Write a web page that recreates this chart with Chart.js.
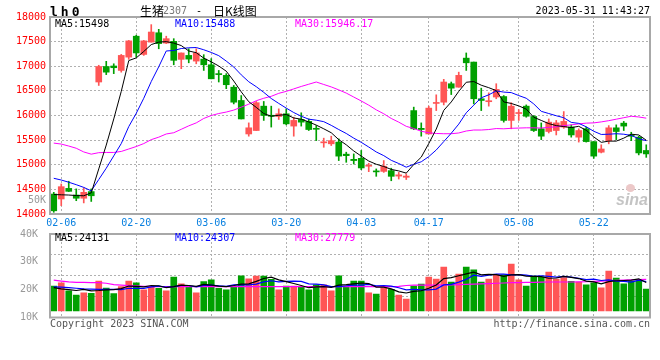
<!DOCTYPE html>
<html>
<head>
<meta charset="utf-8">
<script src="https://cdn.jsdelivr.net/npm/chart.js@4.4.0/dist/chart.umd.min.js"></script>
<style>
body { margin: 0; background: #fff; }
#wrap { position: relative; width: 660px; height: 360px; overflow: hidden; font-family: 'DejaVu Sans Mono', monospace; font-size: 10px; }
.t { position: absolute; white-space: nowrap; line-height: 12px; }
canvas { position: absolute; left: 0; }
</style>
</head>
<body>
<div id="wrap">
  <canvas id="kline" width="660" height="230" style="top:0"></canvas>
  <canvas id="vol" width="660" height="143" style="top:217px"></canvas>

  <div class="t" style="left:50px;top:5px;font-weight:bold;font-size:13px;line-height:13px;letter-spacing:3px">lh0</div>
  <div class="t" style="left:140px;top:4px;font-family:'Noto Sans CJK SC';font-size:12px;line-height:14px">生猪</div>
  <div class="t" style="left:163px;top:5px;color:#777">2307</div>
  <div class="t" style="left:196px;top:5px">-</div>
  <div class="t" style="left:213px;top:4px;font-family:'Noto Sans CJK SC';font-size:12px;line-height:14px">日K线图</div>
  <div class="t" style="right:10px;top:5px">2023-05-31 11:43:27</div>

  <div class="t" style="left:55px;top:18px;color:#000">MA5:15498</div>
  <div class="t" style="left:175px;top:18px;color:#00f">MA10:15488</div>
  <div class="t" style="left:295px;top:18px;color:#f0f">MA30:15946.17</div>
  <div class="t" style="right:614px;top:194px;color:#999">50K</div>

  <div class="t" style="left:55px;top:232px;color:#000">MA5:24131</div>
  <div class="t" style="left:175px;top:232px;color:#00f">MA10:24307</div>
  <div class="t" style="left:295px;top:232px;color:#f0f">MA30:27779</div>

  <div class="t" style="left:50px;top:318px;color:#555">Copyright 2023 SINA.COM</div>
  <div class="t" style="right:10px;top:318px;color:#555">http://finance.sina.com.cn</div>

  <div style="position:absolute;left:626px;top:184px;width:9px;height:8px;border-radius:50%;background:#ecc8c8"></div>
  <div class="t" style="left:616px;top:192px;font-family:'Liberation Sans';font-style:italic;font-weight:bold;font-size:16px;line-height:16px;color:#c4c4c4">sina</div>
</div>

<script>
// trading days 02-03 .. 05-31
const dates = ['02-03','02-06','02-07','02-08','02-09','02-10','02-13','02-14','02-15','02-16',
  '02-17','02-20','02-21','02-22','02-23','02-24','02-27','02-28','03-01','03-02',
  '03-03','03-06','03-07','03-08','03-09','03-10','03-13','03-14','03-15','03-16',
  '03-17','03-20','03-21','03-22','03-23','03-24','03-27','03-28','03-29','03-30',
  '03-31','04-03','04-04','04-06','04-07','04-10','04-11','04-12','04-13','04-14',
  '04-17','04-18','04-19','04-20','04-21','04-24','04-25','04-26','04-27','04-28',
  '05-04','05-05','05-08','05-09','05-10','05-11','05-12','05-15','05-16','05-17',
  '05-18','05-19','05-22','05-23','05-24','05-25','05-26','05-29','05-30','05-31'];
const tickDates = ['02-06','02-20','03-06','03-20','04-03','04-17','05-08','05-22'];

const open = [14405,14305,14520,14385,14320,14455,16680,16995,17005,16915,
  17185,17610,17240,17490,17680,17470,17505,17140,17220,17105,
  17145,17030,16840,16815,16575,16305,15625,15695,16190,16005,
  15980,16035,15785,15920,15880,15740,15445,15425,15460,15215,
  15110,15130,14970,14875,14865,14880,14770,14745,16100,15740,
  15625,16245,16270,16645,16575,17165,17085,16340,16280,16375,
  16385,15900,16040,16190,15980,15730,15675,15695,15765,15765,
  15560,15730,15470,15255,15490,15750,15845,15605,15560,15290];
const high = [14440,14610,14665,14510,14530,14510,17020,17100,17050,17240,
  17525,17630,17525,17845,17750,17610,17560,17270,17355,17355,
  17235,17155,16915,16850,16610,16405,15850,16285,16285,16190,
  16135,16135,15965,16055,15930,15795,15540,15580,15525,15255,
  15220,15290,15030,14915,15085,14930,14845,14815,16170,15850,
  16190,16420,16735,16680,16880,17270,17085,16555,16460,16645,
  16405,16260,16120,16215,16000,15850,15930,15900,16080,15810,
  15730,15765,15470,15405,15795,15810,15880,15660,15580,15405];
const low = [14035,14170,14455,14270,14225,14255,16610,16830,16850,16880,
  17140,17185,17220,17490,17355,17460,17030,16950,17070,17050,
  16915,16745,16680,16545,16235,15930,15580,15695,15900,15765,
  15920,15810,15580,15785,15695,15490,15355,15390,15085,15050,
  15015,14900,14860,14765,14845,14675,14710,14700,15715,15580,
  15625,16100,16215,16425,16575,16915,16235,16100,16190,16340,
  15865,15730,15900,15965,15675,15510,15645,15605,15740,15560,
  15460,15460,15130,15240,15425,15510,15695,15490,15200,15150];
const close = [14065,14555,14460,14320,14440,14370,16995,16880,16970,17220,
  17515,17270,17515,17695,17460,17560,17120,17270,17145,17270,
  17030,16745,16830,16625,16270,15930,15750,16260,16000,15985,
  16035,15830,15900,15865,15715,15720,15460,15490,15175,15185,
  15085,14935,14990,14855,14970,14765,14795,14770,15730,15715,
  16150,16265,16680,16555,16815,17070,16340,16305,16290,16530,
  15900,16190,16055,15985,15695,15580,15865,15850,15880,15605,
  15695,15470,15175,15320,15750,15675,15785,15580,15240,15220];

const ma5 = [14395,14390,14385,14375,14370,14430,14915,15400,15930,16490,
  17115,17170,17300,17440,17490,17500,17470,17420,17310,17275,
  17165,17090,17005,16900,16700,16480,16280,16165,16040,15985,
  16005,16020,15950,15925,15870,15805,15730,15650,15510,15405,
  15280,15175,15075,15010,14965,14905,14875,14830,15005,15155,
  15430,15725,16105,16275,16490,16675,16690,16615,16565,16505,
  16275,16245,16195,16130,15965,15900,15835,15795,15775,15755,
  15780,15700,15565,15455,15480,15480,15540,15620,15605,15498];
const ma10 = [14725,14690,14645,14595,14540,14470,14700,14930,15180,15430,
  15775,16045,16350,16690,16990,17310,17320,17360,17375,17380,
  17335,17280,17215,17105,16985,16825,16685,16585,16470,16345,
  16245,16150,16060,15985,15925,15905,15875,15800,15715,15635,
  15540,15455,15360,15260,15185,15090,15025,14950,15010,15060,
  15165,15300,15470,15640,15825,16055,16210,16360,16420,16500,
  16475,16465,16405,16350,16235,16085,16040,15995,15955,15860,
  15840,15770,15680,15615,15620,15630,15620,15595,15530,15488];
const ma30 = [15440,15420,15380,15335,15260,15215,15245,15250,15250,15270,
  15320,15370,15430,15510,15560,15625,15650,15720,15790,15850,
  15940,16000,16040,16070,16110,16170,16230,16300,16350,16390,
  16450,16490,16540,16590,16635,16680,16630,16580,16520,16455,
  16375,16295,16210,16115,16035,15940,15865,15780,15735,15680,
  15650,15635,15630,15630,15645,15685,15705,15705,15715,15735,
  15730,15740,15745,15750,15750,15745,15760,15770,15795,15810,
  15830,15845,15850,15870,15895,15925,15955,15985,15970,15946];

const volume = [21300,22500,19600,18100,18900,18700,23100,20600,18600,21100,
  23100,22500,19900,21100,20500,19600,24500,22100,20800,18900,
  22900,23500,20500,19900,21100,25000,23900,24900,24900,23700,
  19900,21300,21300,21100,19900,21700,21700,19600,25000,21100,
  23100,23100,18900,18400,20700,20100,18100,16600,21300,22000,
  24500,23800,28100,22700,25600,28100,27100,22700,23800,25300,
  25300,29200,23500,21300,24900,24500,26300,23800,24300,23000,
  22700,21700,22500,20700,26700,24200,22100,23100,23100,20200];
const vma5 = [20700,20300,20000,19700,20100,19600,19700,19900,20000,20400,
  21300,21200,21000,21500,21400,20700,21100,21600,21500,21200,
  21900,21600,21300,21100,21500,22000,22100,23000,24000,24500,
  23500,22900,22200,21500,20700,21000,21100,20800,21600,21800,
  22100,22400,22200,20900,20900,20300,19200,18800,19400,19600,
  20500,21700,24000,24300,25000,25700,26300,25300,25500,25400,
  24800,25300,25400,24900,24800,24700,24100,24200,24800,24400,
  24000,23100,22800,22100,22900,23200,23300,23400,23900,22600];
const vma10 = [21000,20900,20700,20500,20300,20200,20100,20100,20100,20000,
  20500,20500,20500,21000,21300,20900,21100,21500,21500,21000,
  21500,21600,21400,21200,21700,21800,21700,22000,22800,23200,
  22800,23000,23100,23000,22100,22000,21700,21100,21100,21400,
  21600,21600,21900,21400,21500,21300,20700,19900,20100,19900,
  19900,20200,21700,21900,22700,23700,25200,24800,25200,25600,
  25600,25300,25400,25200,24800,25000,24800,24500,24800,24500,
  24100,23600,23800,23300,23500,23100,23000,22700,23400,22900];
const vma30 = [23400,23100,22800,22650,22600,22550,22500,22300,21800,21600,
  21450,21350,21200,21100,21100,21100,21100,21100,21100,21100,
  21100,21100,21100,21100,21100,21100,21100,21100,21100,21100,
  21100,21100,21100,21100,21100,21100,21100,21100,21100,21100,
  21100,21100,21100,21100,21100,21100,21200,21500,21600,21650,
  21650,21650,21700,21750,21800,21900,22000,22100,22200,22300,
  22400,22500,22550,22600,22650,22700,22750,22750,22750,22750,
  22800,22850,22950,23050,23200,23350,23450,23550,23650,23700];

const RED = 'rgb(255,85,85)';
const GREEN = 'rgb(0,160,0)';
const GRID = '#b0b0b0';
const MONO = "'DejaVu Sans Mono', monospace";

function upDown(i) {
  return close[i] >= open[i] ? RED : GREEN;
}

function dateGrid(c) {
  return tickDates.includes(dates[c.index]) ? GRID : 'rgba(0,0,0,0)';
}

function maLine(data, color, width) {
  return { type: 'line', data: data, borderColor: color, borderWidth: width,
    pointRadius: 0, tension: 0, order: 0 };
}

// grey box round each plot area
const framePlugin = {
  id: 'frame',
  afterDraw(chart) {
    const a = chart.chartArea;
    const ctx = chart.ctx;
    ctx.save();
    ctx.strokeStyle = '#a8a8a8';
    ctx.lineWidth = 2;
    ctx.strokeRect(a.left, a.top, a.right - a.left, a.bottom - a.top);
    ctx.restore();
  }
};

const common = {
  responsive: false,
  animation: false,
  events: [],
  plugins: { legend: { display: false }, tooltip: { enabled: false } }
};

new Chart(document.getElementById('kline'), {
  type: 'bar',
  data: {
    labels: dates,
    datasets: [
      maLine(ma5, '#000', 1),
      maLine(ma10, '#00f', 1),
      maLine(ma30, '#f0f', 1),
      { data: low.map((l, i) => [l, high[i]]), backgroundColor: c => upDown(c.dataIndex),
        barThickness: 1, grouped: false, order: 2 },
      { data: open.map((o, i) => [o, close[i]]), backgroundColor: c => upDown(c.dataIndex),
        barThickness: 6, grouped: false, minBarLength: 1, order: 1 }
    ]
  },
  options: Object.assign({}, common, {
    layout: { padding: { left: 0, right: 10, top: 17, bottom: 0 } },
    scales: {
      x: {
        offset: true,
        grid: { offset: false, drawTicks: false, color: dateGrid },
        border: { display: false, dash: [2, 2] },
        ticks: { autoSkip: false, maxRotation: 0, padding: 3, color: '#0a80e0',
          font: { family: MONO, size: 10 },
          callback: (v, i) => tickDates.includes(dates[i]) ? dates[i] : '' },
        afterFit: s => { s.height = 16; }
      },
      y: {
        min: 14000, max: 18000,
        ticks: { stepSize: 500, padding: 4, color: '#f00', font: { family: MONO, size: 10 },
          callback: v => String(v) },
        grid: { color: GRID, drawTicks: false },
        border: { display: false, dash: [2, 2] },
        afterFit: s => { s.width = 50; }
      }
    }
  }),
  plugins: [framePlugin]
});

new Chart(document.getElementById('vol'), {
  type: 'bar',
  data: {
    labels: dates,
    datasets: [
      maLine(vma5, '#000', 1.2),
      maLine(vma10, '#00f', 1.2),
      maLine(vma30, '#f0f', 1.2),
      { data: volume, backgroundColor: c => upDown(c.dataIndex), barThickness: 6,
        base: 12400, order: 1 }
    ]
  },
  options: Object.assign({}, common, {
    layout: { padding: { left: 0, right: 10, top: 17, bottom: 42.5 } },
    scales: {
      x: {
        offset: true,
        grid: { offset: false, drawTicks: false, color: dateGrid },
        border: { display: false, dash: [2, 2] },
        ticks: { display: false, autoSkip: false },
        afterFit: s => { s.height = 0; }
      },
      y: {
        min: 10000, max: 40000,
        ticks: { stepSize: 10000, padding: 4, color: '#999', font: { family: MONO, size: 10 },
          callback: v => (v / 1000) + 'K' },
        grid: { display: false },
        border: { display: false },
        afterFit: s => { s.width = 50; }
      },
      yg: {
        position: 'right', min: 0, max: 4,
        ticks: { display: false, stepSize: 1 },
        grid: { color: GRID, drawTicks: false },
        border: { display: false, dash: [2, 2] },
        afterFit: s => { s.width = 0; }
      }
    }
  }),
  plugins: [framePlugin]
});
</script>
</body>
</html>
